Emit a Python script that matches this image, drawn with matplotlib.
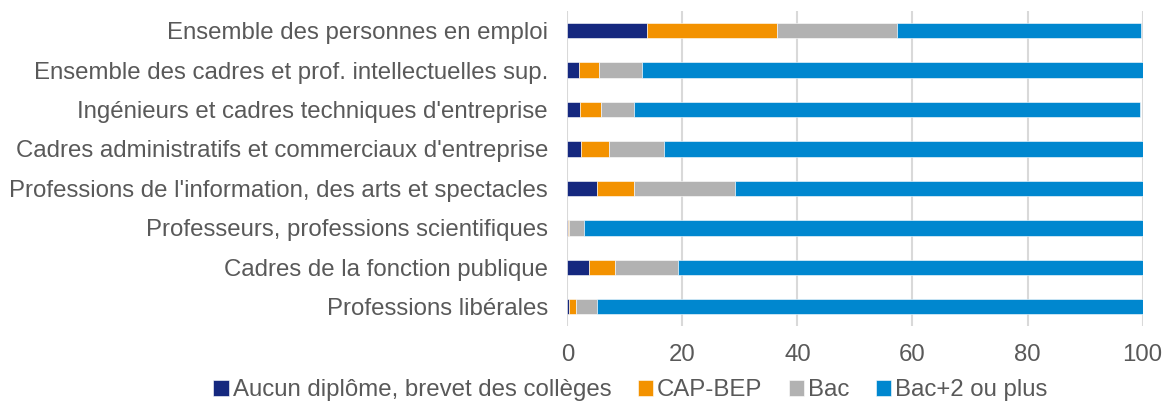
import matplotlib
matplotlib.use("Agg")
import matplotlib.pyplot as plt
import numpy as np

plt.rcParams["font.family"] = ["Liberation Sans", "DejaVu Sans"]

# categories, top to bottom
categories = [
    "Ensemble des personnes en emploi",
    "Ensemble des cadres et prof. intellectuelles sup.",
    "Ingénieurs et cadres techniques d'entreprise",
    "Cadres administratifs et commerciaux d'entreprise",
    "Professions de l'information, des arts et spectacles",
    "Professeurs, professions scientifiques",
    "Cadres de la fonction publique",
    "Professions libérales",
]

# shares (%) by highest diploma
aucun = [13.9, 2.0, 2.2, 2.3, 5.1, 0.1, 3.7, 0.2]
cap_bep = [22.5, 3.5, 3.6, 5.0, 6.4, 0.1, 4.6, 1.3]
bac = [20.9, 7.4, 5.8, 9.5, 17.6, 2.7, 11.0, 3.7]
bac2_plus = [42.4, 87.1, 88.0, 83.2, 70.9, 97.1, 80.7, 94.8]

series = [
    ("Aucun diplôme, brevet des collèges", aucun, "#15287f"),
    ("CAP-BEP", cap_bep, "#f39200"),
    ("Bac", bac, "#b2b2b2"),
    ("Bac+2 ou plus", bac2_plus, "#0087cf"),
]

TEXT = "#595959"
FS = 17.3

fig = plt.figure(figsize=(11.65, 4.05), dpi=100)
ax = fig.add_axes([0.4871, 0.194, 0.4936, 0.779])

y = np.arange(len(categories))
left = np.zeros(len(categories))
for name, vals, color in series:
    vals = np.asarray(vals)
    ax.barh(y, vals, left=left, height=0.39, color=color, label=name,
            edgecolor="white", linewidth=0.4, zorder=3)
    left += vals

ax.set_ylim(len(categories) - 0.5, -0.5)
ax.set_xlim(0, 100)
ax.set_xticks([0, 20, 40, 60, 80, 100])
ax.set_yticks(y)
ax.set_yticklabels(categories)
ax.grid(axis="x", color="#d9d9d9", linewidth=1.5, zorder=0)
for s in ax.spines.values():
    s.set_visible(False)
ax.tick_params(axis="both", length=0, colors=TEXT, labelsize=FS)
ax.tick_params(axis="y", pad=14)
ax.tick_params(axis="x", pad=13)

leg = fig.legend(loc="center", bbox_to_anchor=(0.541, 0.037), ncol=4, frameon=False,
                 fontsize=FS, handlelength=0.65, handleheight=0.65,
                 handletextpad=0.15, columnspacing=1.1)
for t in leg.get_texts():
    t.set_color(TEXT)

fig.savefig("out.png", dpi=100)
